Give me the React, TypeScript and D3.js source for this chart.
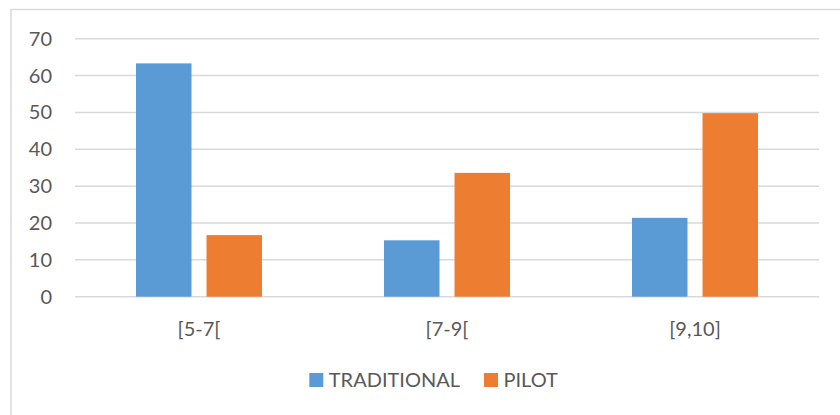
import React from "react";
import * as d3 from "d3";

const categories = ["[5-7[", "[7-9[", "[9,10]"];
const seriesNames = ["TRADITIONAL", "PILOT"];
const traditional = [63.3, 15.3, 21.4];
const pilot = [16.7, 33.6, 49.8];
const yTicks = [0, 10, 20, 30, 40, 50, 60, 70];
const colors = ["#5B9BD5", "#ED7D31"];

const W = 840;
const H = 415;
const FONT = "Lato, 'Open Sans', sans-serif";
const TEXT = "#595959";

export default function App() {
  const x0 = d3
    .scaleBand<string>()
    .domain(categories)
    .range([75, 819])
    .paddingInner(0.492)
    .paddingOuter(0.246);
  const x1 = d3
    .scaleBand<string>()
    .domain(seriesNames)
    .range([0, x0.bandwidth()])
    .paddingInner(0.213)
    .paddingOuter(0);
  const y = d3.scaleLinear().domain([0, 70]).range([296.7, 38.7]);
  const values = [traditional, pilot];

  return (
    <svg
      width={W}
      height={H}
      style={{ position: "absolute", left: 0, top: 0, background: "#fff" }}
    >
      <rect x={0} y={0} width={W} height={H} fill="#fff" />
      <path d={`M11,${H + 2} V9.5 H${W + 2}`} fill="none" stroke="#d9d9d9" strokeWidth={1.5} />
      {yTicks.map((t) => (
        <g key={t}>
          <line x1={75} x2={819} y1={y(t)} y2={y(t)} stroke="#d9d9d9" strokeWidth={1.5} />
          <text
            x={52}
            y={y(t)}
            dy="0.35em"
            textAnchor="end"
            fontFamily={FONT}
            fontSize={20}
            fill={TEXT}
          >
            {t}
          </text>
        </g>
      ))}
      {categories.map((c, i) => (
        <g key={c}>
          {seriesNames.map((s, j) => (
            <rect
              key={s}
              x={(x0(c) as number) + (x1(s) as number)}
              y={y(values[j][i])}
              width={x1.bandwidth()}
              height={y(0) - y(values[j][i])}
              fill={colors[j]}
            />
          ))}
          <text
            x={(x0(c) as number) + x0.bandwidth() / 2}
            y={336}
            textAnchor="middle"
            fontFamily={FONT}
            fontSize={20}
            fill={TEXT}
          >
            {c}
          </text>
        </g>
      ))}
      {seriesNames.map((s, j) => {
        const lx = j === 0 ? 309.3 : 484;
        return (
          <g key={s}>
            <rect x={lx} y={373} width={14} height={14} fill={colors[j]} />
            <text x={lx + 19.5} y={387} fontFamily={FONT} fontSize={20} fill={TEXT}>
              {s}
            </text>
          </g>
        );
      })}
    </svg>
  );
}
